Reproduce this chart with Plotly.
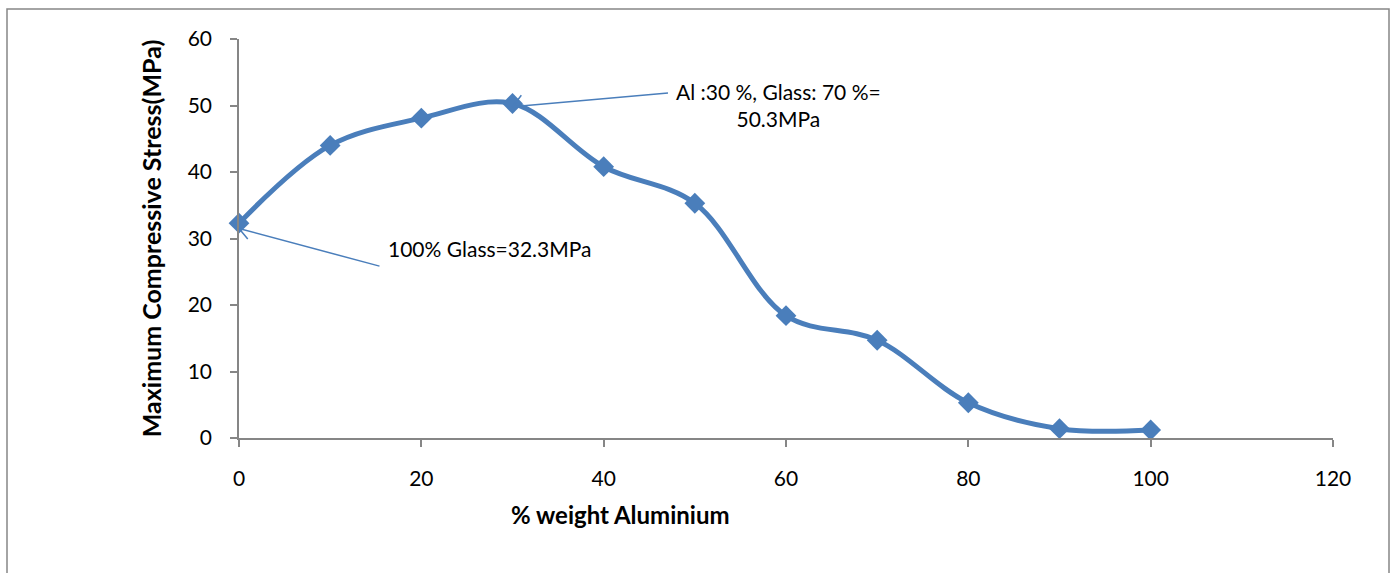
import plotly.graph_objects as go

aluminium_pct = [0, 10, 20, 30, 40, 50, 60, 70, 80, 90, 100]
max_stress = [32.3, 44.0, 48.1, 50.3, 40.8, 35.3, 18.4, 14.7, 5.3, 1.4, 1.2]

x_ticks = [0, 20, 40, 60, 80, 100, 120]
y_ticks = [0, 10, 20, 30, 40, 50, 60]

BLUE = "#4a7ebb"
GREY = "#868686"
FONT = "Lato"

W, H = 1393, 573
L, R, T, B = 239, 1333, 39, 438


def px(xp):
    return (xp - L) / (R - L)


def py(yp):
    return (B - yp) / (B - T)


fig = go.Figure()
fig.add_trace(go.Scatter(
    x=aluminium_pct, y=max_stress, mode="lines+markers",
    line=dict(color=BLUE, width=5, shape="spline", smoothing=1.0),
    marker=dict(symbol="diamond", size=16, color=BLUE),
    showlegend=False, cliponaxis=False,
))

axis_common = dict(
    showgrid=False, zeroline=False, showline=True, linecolor=GREY, linewidth=1.5,
    ticks="outside", ticklen=7, tickcolor=GREY, tickwidth=1.5,
    tickfont=dict(family=FONT, size=21, color="#000000"),
)

fig.update_xaxes(range=[0, 120], tickvals=x_ticks, ticktext=[str(v) for v in x_ticks],
                 ticklabelstandoff=14, **axis_common)
fig.update_yaxes(range=[0, 60], tickvals=y_ticks, ticktext=[str(v) for v in y_ticks],
                 ticklabelstandoff=14,
                 title=dict(text="<b>Maximum Compressive Stress(MPa)</b>",
                            font=dict(family=FONT, size=25, color="#000000"), standoff=19),
                 **axis_common)

txt = dict(family=FONT, size=21, color="#000000")
annotations = [
    dict(text="<b>% weight Aluminium</b>", xref="paper", yref="paper",
         x=px(620), y=py(514), xanchor="center", yanchor="middle", showarrow=False,
         font=dict(family=FONT, size=24, color="#000000")),
    dict(text="Al :30 %, Glass: 70 %=<br>50.3MPa", xref="paper", yref="paper",
         x=px(778), y=py(105), xanchor="center", yanchor="middle", showarrow=False,
         align="center", font=txt),
    dict(text="100% Glass=32.3MPa", xref="paper", yref="paper",
         x=px(489), y=py(248), xanchor="center", yanchor="middle", showarrow=False,
         font=txt),
    # leader lines
    dict(text="", x=aluminium_pct[3], y=max_stress[3] - 0.5, ax=670 - 513, ay=90 - 104,
         axref="pixel", ayref="pixel", showarrow=True, arrowhead=0,
         arrowwidth=1.5, arrowcolor=BLUE),
    dict(text="", x=aluminium_pct[3], y=max_stress[3] - 0.5, ax=10, ay=-13,
         axref="pixel", ayref="pixel", showarrow=True, arrowhead=0,
         arrowwidth=1.5, arrowcolor=BLUE),
    dict(text="", x=aluminium_pct[0], y=max_stress[0] - 0.8, ax=142, ay=38,
         axref="pixel", ayref="pixel", showarrow=True, arrowhead=0,
         arrowwidth=1.5, arrowcolor=BLUE),
    dict(text="", x=aluminium_pct[0], y=max_stress[0] - 0.8, ax=10, ay=12,
         axref="pixel", ayref="pixel", showarrow=True, arrowhead=0,
         arrowwidth=1.5, arrowcolor=BLUE),
]

fig.update_layout(
    width=W, height=H,
    margin=dict(l=L, r=W - R, t=T, b=H - B),
    paper_bgcolor="white", plot_bgcolor="white",
    annotations=annotations,
    shapes=[dict(type="rect", xref="paper", yref="paper",
                 x0=px(7), x1=px(1389), y0=py(585), y1=py(9),
                 line=dict(color=GREY, width=1.5), fillcolor="rgba(0,0,0,0)",
                 layer="below")],
)

fig.write_html("out.html")
